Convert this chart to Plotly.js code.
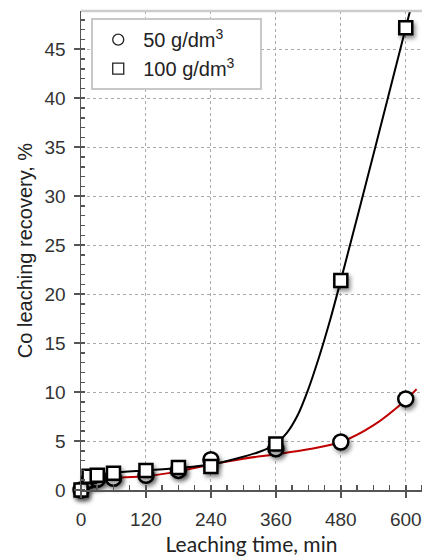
<!DOCTYPE html>
<html>
<head>
<meta charset="utf-8">
<script src="https://cdn.plot.ly/plotly-3.0.1.min.js"></script>
<style>
  html, body { margin: 0; padding: 0; background: #fff; }
  #chart { width: 422px; height: 556px; }
  .scatterlayer .points path { filter: drop-shadow(2px 3px 2px rgba(0,0,0,0.45)); }
</style>
</head>
<body>
<div id="chart"></div>
<script>
// Leaching time, min
const time = [0, 15, 30, 60, 120, 180, 240, 360, 480, 600];

// Co leaching recovery, % (measured)
const rec50 = [0, 1.0, 1.1, 1.2, 1.5, 2.0, 3.1, 4.2, 4.9, 9.3];
const rec100 = [0, 1.4, 1.5, 1.7, 2.0, 2.3, 2.4, 4.7, 21.4, 47.2];

// Fitted trend curves
const fitTime50 = [0, 8, 15, 30, 60, 120, 180, 240, 300, 360, 420, 480, 540, 600, 620];
const fit50 = [0, 0.8, 1.0, 1.1, 1.25, 1.4, 1.9, 2.6, 3.2, 3.65, 4.15, 4.9, 6.6, 9.2, 10.3];
const fitTime100 = [0, 8, 15, 30, 60, 120, 180, 240, 300, 330, 360, 380, 400, 420, 440, 460, 480, 540, 600, 612];
const fit100 = [0, 1.1, 1.4, 1.55, 1.75, 2.0, 2.25, 2.6, 3.4, 3.9, 4.7, 5.8, 7.6, 10.3, 13.6, 17.3, 21.4, 34.2, 47.2, 49.8];

const seriesNames = ['50 g/dm<sup>3</sup>', '100 g/dm<sup>3</sup>'];
const xTicks = [0, 120, 240, 360, 480, 600];

const bigMarker = (symbol, size) => ({
  symbol: symbol, size: size, color: '#ffffff',
  line: { color: '#000000', width: 2.5 }
});

const traces = [
  { x: fitTime50, y: fit50, mode: 'lines', line: { color: '#c00000', width: 2, shape: 'spline', smoothing: 0.8 },
    showlegend: false, hoverinfo: 'skip', cliponaxis: true },
  { x: fitTime100, y: fit100, mode: 'lines', line: { color: '#000000', width: 2, shape: 'spline', smoothing: 0.8 },
    showlegend: false, hoverinfo: 'skip', cliponaxis: true },
  { x: time, y: rec50, mode: 'markers', marker: bigMarker('circle', 15), showlegend: false, cliponaxis: false },
  { x: time, y: rec100, mode: 'markers', marker: bigMarker('square', 13), showlegend: false, cliponaxis: false },
  // legend entries
  { x: [null], y: [null], mode: 'markers', name: seriesNames[0] + '\u2003',
    marker: { symbol: 'circle-open', size: 11, color: '#222', line: { width: 1.3 } } },
  { x: [null], y: [null], mode: 'markers', name: seriesNames[1] + '\u2003',
    marker: { symbol: 'square-open', size: 11, color: '#222', line: { width: 1.3 } } }
];

const sans = 'Liberation Sans, Arial, sans-serif';
const tickFont = { family: sans, size: 19, color: '#333' };

const layout = {
  width: 422, height: 556,
  margin: { l: 81, r: 0, t: 11, b: 66 },
  paper_bgcolor: '#ffffff', plot_bgcolor: '#ffffff',
  showlegend: true,
  legend: {
    x: 0.03, y: 0.985, xanchor: 'left', yanchor: 'top',
    bgcolor: '#ffffff', bordercolor: '#c8c8c8', borderwidth: 2,
    font: { family: sans, size: 20, color: '#222' },
    itemwidth: 40, tracegroupgap: 4
  },
  xaxis: {
    range: [0, 630], tickvals: xTicks, ticktext: xTicks.map(String),
    showgrid: true, gridcolor: '#aaaaaa', griddash: 'dot', gridwidth: 1,
    zeroline: false, showline: true, linecolor: '#555', linewidth: 1.5,
    ticks: 'outside', ticklen: 6, tickcolor: '#555', tickwidth: 1.5,
    ticklabelstandoff: 6, ticklabeloverflow: 'allow',
    minor: { dtick: 30, tick0: 0, ticks: 'inside', ticklen: 5, tickcolor: '#555', showgrid: false },
    tickfont: tickFont,
    title: { text: 'Leaching time, min', font: { family: 'Lato, Open Sans, sans-serif', size: 21, color: '#222' }, standoff: 14 }
  },
  yaxis: {
    range: [0, 48.9], tickvals: [0, 5, 10, 15, 20, 25, 30, 35, 40, 45],
    showgrid: true, gridcolor: '#aaaaaa', griddash: 'dot', gridwidth: 1,
    zeroline: false, showline: true, linecolor: '#555', linewidth: 1.5,
    ticks: 'outside', ticklen: 6, tickcolor: '#555', tickwidth: 1.5,
    ticklabelstandoff: 4,
    minor: { dtick: 1, tick0: 0, ticks: 'inside', ticklen: 4, tickcolor: '#555', showgrid: false },
    tickfont: tickFont,
    title: { text: 'Co leaching recovery, %', font: { family: sans, size: 20, color: '#222' }, standoff: 6 }
  },
  shapes: [
    { type: 'line', xref: 'paper', yref: 'paper', x0: 0, x1: 1, y0: 1, y1: 1,
      line: { color: '#cccccc', width: 2.5 } }
  ]
};

Plotly.newPlot('chart', traces, layout, { displayModeBar: false, staticPlot: true });
</script>
</body>
</html>
